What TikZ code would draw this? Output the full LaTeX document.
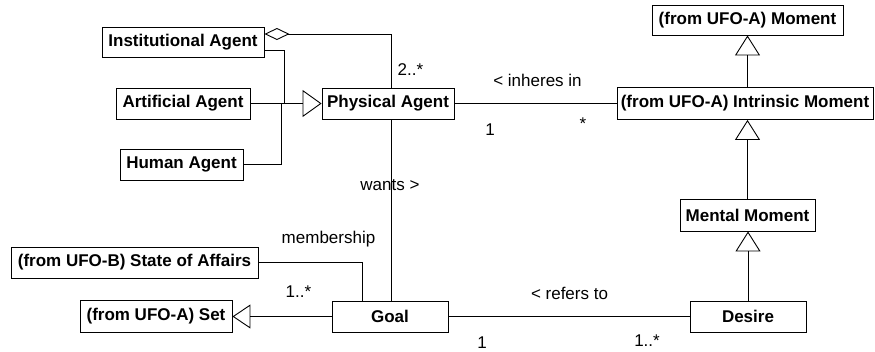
\documentclass[tikz,border=0pt]{standalone}
\usepackage{fontspec}
\setmainfont{Liberation Sans}
\usetikzlibrary{arrows.meta}
\begin{document}
\begin{tikzpicture}[x=1pt,y=-1pt,line width=0.9pt,
  cls/.style={draw, rectangle, inner sep=0pt, font=\fontsize{17}{20}\selectfont\bfseries},
  lbl/.style={inner sep=0pt, font=\fontsize{17}{20}\selectfont},
  gen/.style={-{Triangle[open,length=20pt,width=25pt]}},
  agg/.style={{Diamond[open,length=25pt,width=12pt]}-}]
\useasboundingbox (0,0) rectangle (875,351);
% classes
\node[cls, minimum width=162pt, minimum height=30pt] (inst) at (183,42) {Institutional Agent};
\node[cls, minimum width=134pt, minimum height=31pt] (art) at (183,103.5) {Artificial Agent};
\node[cls, minimum width=123pt, minimum height=31pt] (human) at (181.5,164.5) {Human Agent};
\node[cls, minimum width=132pt, minimum height=31pt] (phys) at (388,103.5) {Physical Agent};
\node[cls, minimum width=191pt, minimum height=30pt] (moment) at (747.5,20) {(from UFO-A) Moment};
\node[cls, minimum width=256pt, minimum height=32pt] (intr) at (745,103.5) {(from UFO-A) Intrinsic Moment};
\node[cls, minimum width=135pt, minimum height=32pt] (mental) at (747.5,215) {Mental Moment};
\node[cls, minimum width=116pt, minimum height=31pt] (desire) at (748,316.5) {Desire};
\node[cls, minimum width=116pt, minimum height=31pt] (goal) at (390,316.5) {Goal};
\node[cls, minimum width=247pt, minimum height=31pt] (soa) at (134.5,262.5) {(from UFO-B) State of Affairs};
\node[cls, minimum width=152pt, minimum height=32pt] (set) at (156,316) {(from UFO-A) Set};
% junctions
\coordinate (j1) at (284,103.5);
\coordinate (j2) at (281,103.5);
% generalizations to Physical Agent
\draw ([yshift=-8pt]inst.east) -| (j1);
\draw (human.east) -| (j2);
\draw[-{Triangle[open,length=19pt,width=27pt]}] (art.east) -- (phys.west);
% aggregation
\draw[agg] ([yshift=8pt]inst.east) -| ([xshift=3pt]phys.north);
% wants
\draw ([xshift=3pt]phys.south) -- ([xshift=3pt]phys.south |- goal.north);
% inheres in
\draw (phys.east) -- (intr.west);
% moment hierarchy
\draw[gen] (intr.north -| moment.south) -- (moment.south);
\draw[gen] (mental.north) -- (mental.north |- intr.south);
\draw[gen] (desire.north) -- (desire.north |- mental.south);
% refers to
\draw (goal.east) -- (goal.east -| desire.west);
% membership
\draw (soa.east) -| ([xshift=-28pt]goal.north);
% goal is a set
\draw[-{Triangle[open,length=18pt,width=24pt]}] (goal.west) -- (goal.west -| set.east);
% labels
\node[lbl] (l1) at (410.5,70) {2..*};
\node[lbl] (l2) at (390,185) {wants >};
\node[lbl] (l3) at (537.5,80) {< inheres in};
\node[lbl] (l4) at (490,130) {1};
\node[lbl] (l5) at (583,124) {*};
\node[lbl] (l6) at (328.5,239) {membership};
\node[lbl] (l7) at (298.5,292) {1..*};
\node[lbl] (l8) at (569.5,293) {< refers to};
\node[lbl] (l9) at (482,343) {1};
\node[lbl] (l10) at (647,341) {1..*};
\end{tikzpicture}
\end{document}
